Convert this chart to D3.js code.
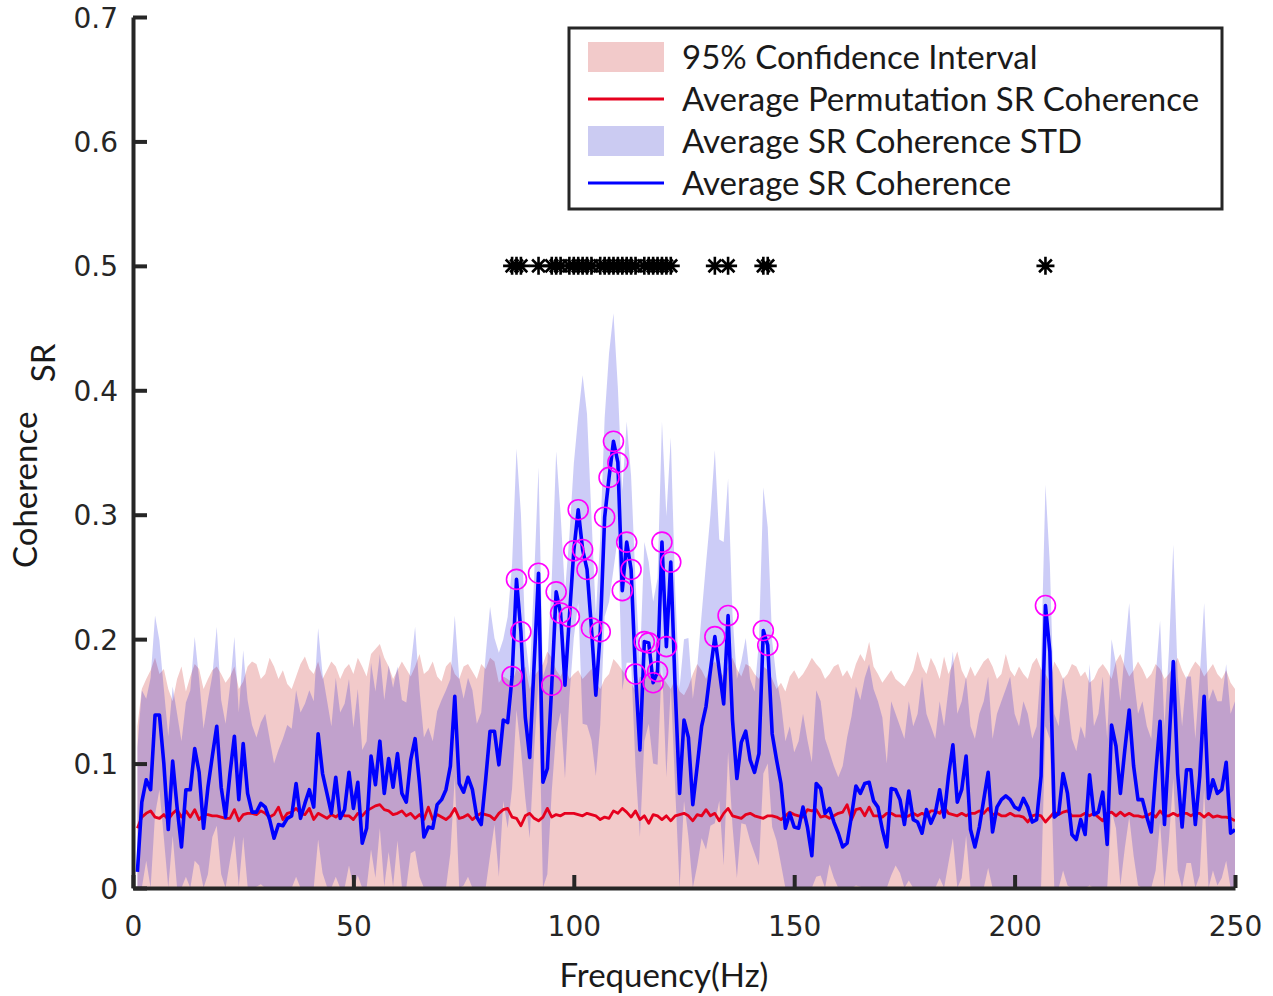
<!doctype html>
<html>
<head>
<meta charset="utf-8">
<title>SR Coherence</title>
<script src="https://d3js.org/d3.v7.min.js"></script>
<style>
  body { margin: 0; background: #fff; }
  svg { display: block; }
  .axis path, .axis line { stroke: #262626; stroke-width: 4; }
  .axis text { fill: #262626; font-family: "DejaVu Sans", sans-serif; font-size: 28px; }
  .lbl { font-family: Lato, "Open Sans", sans-serif; fill: #1a1a1a; }
</style>
</head>
<body>
<div id="chart"></div>
<script>
// frequency bins (Hz)
const freqs = d3.range(1, 251);

// average SR coherence (blue line)
const meanSR = [
  0.013,0.069,0.087,0.079,0.139,0.139,0.100,0.047,0.102,0.065,
  0.033,0.079,0.079,0.112,0.093,0.048,0.081,0.106,0.130,0.081,
  0.057,0.092,0.122,0.071,0.116,0.076,0.061,0.061,0.068,0.065,
  0.055,0.040,0.051,0.050,0.056,0.058,0.084,0.056,0.068,0.079,
  0.065,0.124,0.092,0.076,0.060,0.089,0.056,0.063,0.093,0.064,
  0.085,0.036,0.048,0.106,0.083,0.118,0.076,0.104,0.081,0.108,
  0.076,0.069,0.103,0.120,0.084,0.041,0.049,0.048,0.067,0.071,
  0.079,0.098,0.154,0.084,0.077,0.089,0.079,0.057,0.051,0.087,
  0.126,0.126,0.099,0.135,0.133,0.170,0.248,0.206,0.137,0.105,
  0.180,0.253,0.085,0.096,0.163,0.238,0.221,0.163,0.218,0.271,
  0.304,0.272,0.256,0.209,0.155,0.206,0.298,0.330,0.359,0.342,
  0.239,0.278,0.256,0.172,0.111,0.198,0.197,0.165,0.174,0.278,
  0.194,0.262,0.160,0.076,0.135,0.121,0.067,0.098,0.130,0.146,
  0.175,0.202,0.175,0.148,0.219,0.135,0.088,0.117,0.126,0.103,
  0.093,0.108,0.207,0.195,0.124,0.103,0.084,0.048,0.060,0.049,
  0.048,0.065,0.049,0.026,0.084,0.080,0.060,0.064,0.053,0.044,
  0.033,0.036,0.058,0.082,0.076,0.084,0.085,0.070,0.065,0.047,
  0.033,0.080,0.079,0.071,0.051,0.078,0.055,0.053,0.044,0.063,
  0.052,0.060,0.079,0.057,0.090,0.115,0.069,0.079,0.106,0.047,
  0.033,0.049,0.071,0.093,0.045,0.065,0.071,0.074,0.071,0.065,
  0.063,0.072,0.065,0.053,0.055,0.090,0.227,0.190,0.057,0.060,
  0.092,0.076,0.043,0.039,0.055,0.043,0.091,0.059,0.061,0.077,
  0.035,0.131,0.114,0.076,0.111,0.143,0.098,0.071,0.071,0.057,
  0.045,0.092,0.134,0.051,0.114,0.182,0.092,0.049,0.095,0.095,
  0.051,0.090,0.154,0.072,0.087,0.076,0.079,0.101,0.044,0.047
];

// standard deviation of SR coherence (lavender band = mean +/- std)
const stdSR = [
  0.100,0.090,0.065,0.090,0.080,0.060,0.060,0.075,0.060,0.075,
  0.085,0.070,0.080,0.090,0.075,0.080,0.070,0.065,0.080,0.070,
  0.075,0.070,0.080,0.070,0.075,0.075,0.070,0.060,0.065,0.075,
  0.065,0.060,0.060,0.070,0.075,0.070,0.075,0.085,0.080,0.080,
  0.085,0.085,0.080,0.075,0.070,0.080,0.085,0.085,0.075,0.065,
  0.075,0.075,0.070,0.075,0.075,0.070,0.075,0.075,0.080,0.070,
  0.075,0.080,0.075,0.090,0.075,0.080,0.080,0.070,0.075,0.080,
  0.080,0.070,0.065,0.085,0.075,0.080,0.080,0.075,0.090,0.100,
  0.100,0.075,0.090,0.065,0.085,0.090,0.105,0.095,0.065,0.065,
  0.070,0.085,0.085,0.085,0.085,0.113,0.080,0.075,0.065,0.070,
  0.075,0.140,0.125,0.090,0.065,0.075,0.080,0.100,0.103,0.060,
  0.080,0.097,0.075,0.075,0.070,0.080,0.065,0.065,0.075,0.097,
  0.105,0.100,0.080,0.085,0.065,0.080,0.085,0.080,0.090,0.115,
  0.125,0.150,0.105,0.130,0.110,0.085,0.080,0.065,0.075,0.065,
  0.065,0.090,0.115,0.095,0.075,0.065,0.065,0.070,0.070,0.060,
  0.070,0.075,0.070,0.075,0.075,0.070,0.060,0.045,0.045,0.045,
  0.065,0.085,0.080,0.080,0.075,0.085,0.095,0.090,0.085,0.090,
  0.067,0.070,0.061,0.059,0.069,0.072,0.075,0.087,0.126,0.077,
  0.078,0.060,0.071,0.073,0.070,0.075,0.071,0.071,0.064,0.083,
  0.087,0.091,0.079,0.077,0.075,0.075,0.079,0.086,0.099,0.075,
  0.067,0.078,0.075,0.067,0.075,0.090,0.097,0.070,0.083,0.070,
  0.078,0.074,0.077,0.071,0.075,0.077,0.089,0.071,0.079,0.093,
  0.085,0.069,0.066,0.074,0.079,0.086,0.072,0.069,0.079,0.073,
  0.075,0.078,0.081,0.079,0.076,0.094,0.078,0.081,0.075,0.075,
  0.069,0.080,0.075,0.078,0.073,0.074,0.071,0.079,0.096,0.103
];

// average permutation SR coherence (red line)
const permSR = [
  0.048,0.057,0.060,0.062,0.057,0.056,0.059,0.055,0.060,0.063,
  0.057,0.062,0.057,0.063,0.055,0.059,0.059,0.058,0.058,0.057,
  0.056,0.056,0.063,0.054,0.059,0.060,0.060,0.059,0.062,0.060,
  0.057,0.059,0.065,0.055,0.060,0.061,0.064,0.060,0.059,0.064,
  0.055,0.060,0.058,0.056,0.059,0.057,0.060,0.058,0.058,0.055,
  0.060,0.058,0.062,0.064,0.066,0.067,0.063,0.062,0.059,0.060,
  0.062,0.058,0.060,0.056,0.059,0.055,0.065,0.055,0.059,0.057,
  0.055,0.058,0.064,0.056,0.057,0.059,0.055,0.058,0.060,0.059,
  0.058,0.055,0.060,0.063,0.064,0.057,0.056,0.050,0.058,0.060,
  0.056,0.054,0.057,0.064,0.057,0.059,0.058,0.060,0.060,0.060,
  0.059,0.058,0.060,0.059,0.058,0.055,0.057,0.056,0.062,0.060,
  0.064,0.061,0.057,0.062,0.055,0.058,0.052,0.059,0.058,0.055,
  0.058,0.054,0.058,0.059,0.060,0.058,0.054,0.059,0.058,0.063,
  0.058,0.060,0.054,0.060,0.064,0.058,0.057,0.056,0.059,0.060,
  0.058,0.057,0.056,0.058,0.058,0.057,0.055,0.058,0.061,0.059,
  0.058,0.057,0.063,0.062,0.063,0.057,0.058,0.056,0.058,0.060,
  0.061,0.067,0.055,0.063,0.064,0.058,0.065,0.058,0.058,0.057,
  0.060,0.060,0.058,0.058,0.057,0.058,0.060,0.058,0.060,0.058,
  0.062,0.062,0.060,0.065,0.060,0.059,0.058,0.060,0.058,0.060,
  0.060,0.062,0.060,0.064,0.059,0.060,0.058,0.058,0.060,0.058,
  0.058,0.057,0.053,0.058,0.059,0.058,0.053,0.057,0.061,0.059,
  0.061,0.062,0.058,0.058,0.058,0.060,0.058,0.060,0.057,0.054,
  0.060,0.061,0.058,0.061,0.058,0.060,0.058,0.058,0.057,0.058,
  0.060,0.057,0.062,0.058,0.058,0.060,0.058,0.060,0.060,0.058,
  0.060,0.060,0.057,0.060,0.057,0.058,0.057,0.057,0.056,0.054
];

// upper bound of permutation 95% confidence interval (pink band from 0)
const ciUpper = [
  0.130,0.160,0.168,0.175,0.185,0.172,0.176,0.160,0.150,0.168,
  0.178,0.158,0.170,0.180,0.176,0.160,0.168,0.175,0.178,0.172,
  0.165,0.170,0.178,0.160,0.166,0.178,0.182,0.180,0.168,0.172,
  0.185,0.178,0.168,0.175,0.164,0.160,0.170,0.180,0.186,0.176,
  0.172,0.182,0.168,0.175,0.182,0.178,0.168,0.176,0.180,0.172,
  0.185,0.178,0.170,0.188,0.192,0.196,0.185,0.178,0.168,0.175,
  0.182,0.176,0.170,0.178,0.188,0.172,0.175,0.182,0.170,0.166,
  0.178,0.182,0.172,0.168,0.178,0.180,0.174,0.168,0.180,0.176,
  0.185,0.182,0.165,0.170,0.168,0.165,0.176,0.172,0.178,0.160,
  0.170,0.175,0.180,0.190,0.185,0.175,0.170,0.178,0.168,0.172,
  0.175,0.168,0.172,0.176,0.165,0.160,0.168,0.172,0.184,0.180,
  0.175,0.170,0.165,0.158,0.170,0.168,0.176,0.172,0.178,0.170,
  0.165,0.160,0.168,0.158,0.155,0.162,0.172,0.180,0.175,0.168,
  0.178,0.182,0.175,0.170,0.178,0.185,0.176,0.170,0.180,0.178,
  0.172,0.168,0.178,0.175,0.168,0.160,0.165,0.158,0.170,0.175,
  0.168,0.172,0.178,0.185,0.180,0.176,0.168,0.172,0.178,0.180,
  0.170,0.175,0.168,0.180,0.188,0.182,0.198,0.178,0.172,0.165,
  0.170,0.175,0.168,0.165,0.162,0.168,0.175,0.190,0.178,0.172,
  0.185,0.178,0.168,0.186,0.172,0.180,0.190,0.175,0.168,0.178,
  0.170,0.176,0.182,0.185,0.178,0.168,0.172,0.188,0.175,0.170,
  0.178,0.172,0.168,0.180,0.185,0.176,0.172,0.165,0.182,0.176,
  0.168,0.172,0.180,0.178,0.170,0.174,0.165,0.168,0.176,0.180,
  0.175,0.168,0.182,0.188,0.178,0.170,0.175,0.182,0.176,0.168,
  0.172,0.180,0.176,0.168,0.172,0.178,0.185,0.175,0.168,0.176,
  0.182,0.178,0.170,0.175,0.180,0.172,0.168,0.175,0.165,0.160
];

// frequencies flagged as significant (circles on the curve, stars at 0.5)
const sigFreqs = [86,87,88,92,95,96,97,99,100,101,102,103,104,106,107,108,109,110,
  111,112,113,114,116,117,118,119,120,121,122,132,135,143,144,207];
const starLevel = 0.5;

const xTicks = [0, 50, 100, 150, 200, 250];
const yTicks = [0, 0.1, 0.2, 0.3, 0.4, 0.5, 0.6, 0.7];
const yTickLabels = ["0", "0.1", "0.2", "0.3", "0.4", "0.5", "0.6", "0.7"];

const legendItems = [
  {label: "95% Confidence Interval", type: "area", color: "#f2caca"},
  {label: "Average Permutation SR Coherence", type: "line", color: "#e6001e"},
  {label: "Average SR Coherence STD", type: "area", color: "#cbcbf2"},
  {label: "Average SR Coherence", type: "line", color: "#0000ff"}
];

const W = 1273, H = 996;
const pLeft = 133, pRight = 1235, pTop = 17, pBottom = 888;

const svg = d3.select("#chart").append("svg")
  .attr("width", W).attr("height", H);

const x = d3.scaleLinear().domain([0, 250]).range([pLeft, pRight]);
const y = d3.scaleLinear().domain([0, 0.7]).range([pBottom, pTop]);

svg.append("clipPath").attr("id", "plotclip")
  .append("rect").attr("x", pLeft).attr("y", pTop)
  .attr("width", pRight - pLeft).attr("height", pBottom - pTop);

const plot = svg.append("g").attr("clip-path", "url(#plotclip)");

// pink CI band
const ciArea = d3.area()
  .x((d, i) => x(freqs[i]))
  .y0(y(0))
  .y1(d => y(d));
plot.append("path").datum(ciUpper)
  .attr("d", ciArea)
  .attr("fill", "#f2caca");

// lavender std band
const stdArea = d3.area()
  .x((d, i) => x(freqs[i]))
  .y0((d, i) => y(Math.max(0, meanSR[i] - stdSR[i])))
  .y1((d, i) => y(meanSR[i] + stdSR[i]));
plot.append("path").datum(meanSR)
  .attr("d", stdArea)
  .attr("fill", "rgb(0,0,215)")
  .attr("fill-opacity", 0.2);

const line = d3.line().x((d, i) => x(freqs[i])).y(d => y(d));

plot.append("path").datum(permSR)
  .attr("d", line)
  .attr("fill", "none")
  .attr("stroke", "#e6001e")
  .attr("stroke-width", 2.8)
  .attr("stroke-linejoin", "round");

plot.append("path").datum(meanSR)
  .attr("d", line)
  .attr("fill", "none")
  .attr("stroke", "#0000ff")
  .attr("stroke-width", 3.6)
  .attr("stroke-linejoin", "round");

// significance circles
plot.selectAll("circle.sig").data(sigFreqs).enter().append("circle")
  .attr("class", "sig")
  .attr("cx", d => x(d))
  .attr("cy", d => y(meanSR[d - 1]))
  .attr("r", 10)
  .attr("fill", "none")
  .attr("stroke", "#ff00ff")
  .attr("stroke-width", 1.6);

// star markers
const s = 9, sd = 6.4;
const starPath = `M${-s},0H${s}M0,${-s}V${s}M${-sd},${-sd}L${sd},${sd}M${-sd},${sd}L${sd},${-sd}`;
plot.selectAll("path.star").data(sigFreqs).enter().append("path")
  .attr("class", "star")
  .attr("transform", d => `translate(${x(d)},${y(starLevel)})`)
  .attr("d", starPath)
  .attr("stroke", "#000")
  .attr("stroke-width", 2.6)
  .attr("fill", "none");

// axes
svg.append("g").attr("class", "axis")
  .attr("transform", `translate(${pLeft},0)`)
  .call(d3.axisLeft(y).tickValues(yTicks)
    .tickFormat((d, i) => yTickLabels[i])
    .tickSizeInner(-14).tickSizeOuter(0).tickPadding(15))
  .call(g => g.selectAll("text").attr("dy", "0.36em"));

svg.append("g").attr("class", "axis")
  .attr("transform", `translate(0,${pBottom})`)
  .call(d3.axisBottom(x).tickValues(xTicks)
    .tickSizeInner(-13).tickSizeOuter(0).tickPadding(28));

// axis labels
svg.append("text").attr("class", "lbl")
  .attr("x", 664).attr("y", 987)
  .attr("text-anchor", "middle")
  .style("font-size", "33px")
  .text("Frequency(Hz)");

const yl = svg.append("text").attr("class", "lbl")
  .attr("transform", "translate(37,568) rotate(-90)")
  .style("font-size", "33px");
yl.append("tspan").text("Coherence");
yl.append("tspan").attr("dx", 30).attr("dy", 18).text("SR");

// legend
const lg = svg.append("g").attr("transform", "translate(569,28)");
lg.append("rect").attr("width", 653).attr("height", 181)
  .attr("fill", "#fff").attr("stroke", "#262626").attr("stroke-width", 3);

const rows = lg.selectAll("g.item").data(legendItems).enter().append("g")
  .attr("class", "item")
  .attr("transform", (d, i) => `translate(0,${29 + i * 42})`);

rows.filter(d => d.type === "area").append("rect")
  .attr("x", 19).attr("y", -15).attr("width", 76).attr("height", 30)
  .attr("fill", d => d.color);
rows.filter(d => d.type === "line").append("line")
  .attr("x1", 19).attr("x2", 95)
  .attr("stroke", d => d.color).attr("stroke-width", 3);
rows.append("text").attr("class", "lbl")
  .attr("x", 113).attr("y", 12)
  .style("font-size", "33px")
  .text(d => d.label);
</script>
</body>
</html>
